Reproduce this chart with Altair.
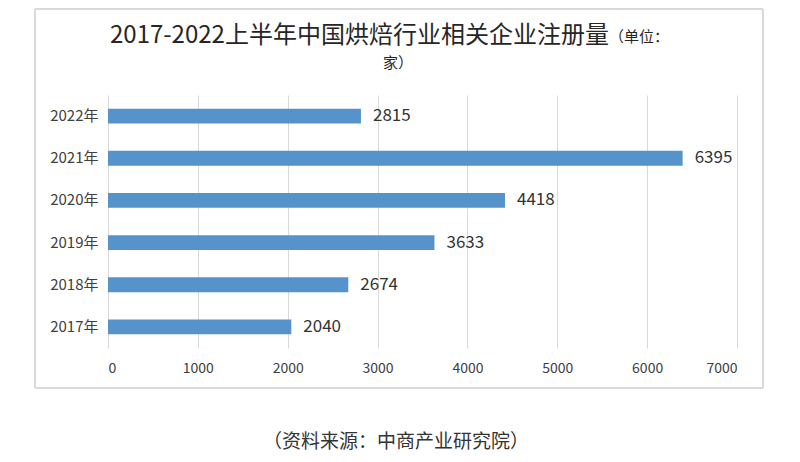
import altair as alt
import pandas as pd

years = ["2022年", "2021年", "2020年", "2019年", "2018年", "2017年"]
values = [2815, 6395, 4418, 3633, 2674, 2040]
x_ticks = [0, 1000, 2000, 3000, 4000, 5000, 6000, 7000]

title_main = "2017-2022上半年中国烘焙行业相关企业注册量"
title_unit1 = "（单位："
title_unit2 = "家）"
source_text = "（资料来源：中商产业研究院）"

df = pd.DataFrame({"year": years, "value": values})

FONT = "Noto Sans CJK SC"
W, H = 629, 253

x_enc = alt.X("value:Q", scale=alt.Scale(domain=[0, 7000], nice=False),
              axis=alt.Axis(values=x_ticks, format="d", title=None, grid=True, gridColor="#d9d9d9",
                            gridWidth=1, domain=False, ticks=False, labelPadding=13,
                            labelFontSize=14, labelColor="#404040", labelFont=FONT))
y_enc = alt.Y("year:N", sort=years, scale=alt.Scale(paddingInner=0.65, paddingOuter=0.325),
              axis=alt.Axis(title=None, domain=False, ticks=False, labelPadding=10,
                            labelFontSize=15, labelColor="#404040", labelFont=FONT))

bars = alt.Chart(df).mark_bar(color="#5793CB").encode(x=x_enc, y=y_enc)
labels = alt.Chart(df).mark_text(align="left", baseline="middle", dx=12, fontSize=17,
                                 color="#333333", font=FONT).encode(
    x="value:Q", y=alt.Y("year:N", sort=years), text="value:Q")

border = alt.Chart(df).mark_rect(fill=None, stroke="#d9d9d9", strokeWidth=1, clip=False).encode(
    x=alt.value(-73), x2=alt.value(655), y=alt.value(-86), y2=alt.value(293))

t_main = alt.Chart(pd.DataFrame({"t": [title_main]})).mark_text(
    align="left", baseline="alphabetic", fontSize=24, color="#262626", font=FONT).encode(
    x=alt.value(2), y=alt.value(-52), text="t:N")
t_u1 = alt.Chart(pd.DataFrame({"t": [title_unit1]})).mark_text(
    align="left", baseline="alphabetic", fontSize=15, color="#262626", font=FONT).encode(
    x=alt.value(501), y=alt.value(-53), text="t:N")
t_u2 = alt.Chart(pd.DataFrame({"t": [title_unit2]})).mark_text(
    align="center", baseline="alphabetic", fontSize=15, color="#262626", font=FONT).encode(
    x=alt.value(290), y=alt.value(-27), text="t:N")
t_src = alt.Chart(pd.DataFrame({"t": [source_text]})).mark_text(
    align="center", baseline="middle", fontSize=19, color="#333333", font=FONT).encode(
    x=alt.value(288), y=alt.value(347), text="t:N")

chart = alt.layer(border, bars, labels, t_main, t_u1, t_u2, t_src).properties(
    width=W, height=H,
    autosize=alt.AutoSizeParams(type="none"),
    padding={"left": 108, "top": 95, "right": 63, "bottom": 114},
    background="white",
).configure_view(stroke=None)

chart.save("out.html", embed_options={"renderer": "svg", "actions": False})
